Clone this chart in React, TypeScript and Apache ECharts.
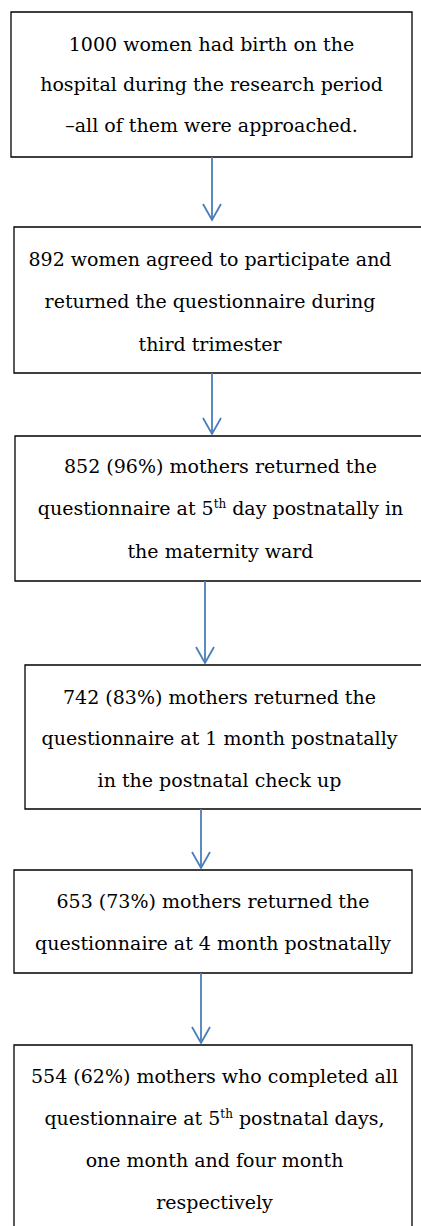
import React, { useEffect, useRef } from "react";
import * as echarts from "echarts";

// ---- DATA: flow steps (text lines; ^{..} marks superscript) ----
const step1 = [
  "1000 women had birth on the",
  "hospital during the research period",
  "\u2013all of them were approached.",
];
const step2 = [
  "892 women agreed to participate and",
  "returned the questionnaire during",
  "third trimester",
];
const step3 = [
  "852 (96%) mothers returned the",
  "questionnaire at 5^{th} day postnatally in",
  "the maternity ward",
];
const step4 = [
  "742 (83%) mothers returned the",
  "questionnaire at 1 month postnatally",
  "in the postnatal check up",
];
const step5 = [
  "653 (73%) mothers returned the",
  "questionnaire at 4 month postnatally",
];
const step6 = [
  "554 (62%) mothers who completed all",
  "questionnaire at 5^{th} postnatal days,",
  "one month and four month",
  "respectively",
];
const steps = [step1, step2, step3, step4, step5, step6];

// ---- LAYOUT (positions / sizes) ----
const boxLayout = [
  { x: 11, y: 12, w: 401, h: 145, tx: 211.5, base: 52, gap: 40.5 },
  { x: 14, y: 227, w: 430, h: 146, tx: 210, base: 267, gap: 42.5 },
  { x: 15, y: 436, w: 430, h: 145, tx: 220.5, base: 474, gap: 42.5 },
  { x: 25, y: 665, w: 420, h: 144, tx: 219.5, base: 705, gap: 41.5 },
  { x: 14, y: 870, w: 398, h: 103, tx: 213, base: 909, gap: 42 },
  { x: 14, y: 1045, w: 398, h: 220, tx: 214.5, base: 1084, gap: 42 },
];
const arrowLayout = [
  { x: 212, y1: 157, y2: 220 },
  { x: 212, y1: 373, y2: 434 },
  { x: 205, y1: 581, y2: 663 },
  { x: 201, y1: 809, y2: 868 },
  { x: 201, y1: 973, y2: 1043 },
];

const FONT = "DejaVu Serif";
const FS = 19;
const BASE_OFF = 8.5;
const ARROW = "#4a7ebb";

function toRich(line: string): string {
  const parts: string[] = [];
  const re = /\^\{([^}]*)\}/g;
  let last = 0;
  let m: RegExpExecArray | null;
  while ((m = re.exec(line))) {
    if (m.index > last) parts.push("{n|" + line.slice(last, m.index) + "}");
    parts.push("{s|" + m[1] + "}");
    last = m.index + m[0].length;
  }
  if (last < line.length) parts.push("{n|" + line.slice(last) + "}");
  return parts.join("");
}

export default function App() {
  const ref = useRef<HTMLDivElement>(null);
  useEffect(() => {
    document.body.style.margin = "0";
    const chart = echarts.init(ref.current!, null, { renderer: "svg" });
    const elements: any[] = [];
    steps.forEach((lines, i) => {
      const b = boxLayout[i];
      elements.push({
        type: "rect",
        shape: { x: b.x, y: b.y, width: b.w, height: b.h },
        style: { fill: "#fff", stroke: "#000", lineWidth: 1.3 },
      });
      lines.forEach((ln, j) => {
        elements.push({
          type: "text",
          x: b.tx,
          y: b.base + j * b.gap - BASE_OFF,
          style: {
            text: toRich(ln),
            textAlign: "center",
            verticalAlign: "middle",
            rich: {
              n: { fontSize: FS, fontFamily: FONT, fill: "#000" },
              s: {
                fontSize: 12,
                fontFamily: FONT,
                fill: "#000",
                padding: [0, 0, 8, 0],
              },
            },
          },
        });
      });
    });
    arrowLayout.forEach((a) => {
      elements.push({
        type: "line",
        shape: { x1: a.x, y1: a.y1, x2: a.x, y2: a.y2 - 1 },
        style: { stroke: ARROW, lineWidth: 1.8 },
      });
      elements.push({
        type: "polyline",
        shape: {
          points: [
            [a.x - 9, a.y2 - 16],
            [a.x, a.y2],
            [a.x + 9, a.y2 - 16],
          ],
        },
        style: { stroke: ARROW, lineWidth: 1.8, fill: "none" },
      });
    });
    chart.setOption({
      animation: false,
      backgroundColor: "#fff",
      graphic: { elements },
    });
    return () => chart.dispose();
  }, []);
  return <div ref={ref} style={{ width: 421, height: 1226 }} />;
}
